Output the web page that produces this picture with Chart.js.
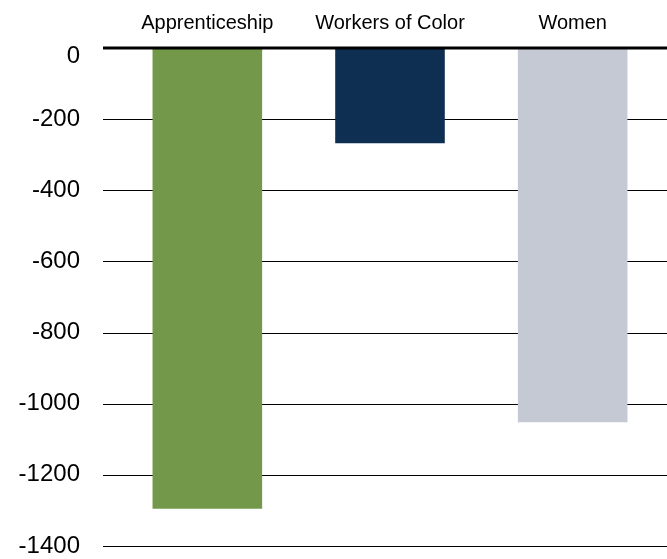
<!DOCTYPE html>
<html>
<head>
<meta charset="utf-8">
<script src="https://cdn.jsdelivr.net/npm/chart.js@4"></script>
<style>
  html, body { margin: 0; padding: 0; background: #fff; overflow: hidden; }
  canvas { display: block; }
</style>
</head>
<body>
<canvas id="gap-chart" width="667" height="559"></canvas>
<script>
const categories = ["Apprenticeship", "Workers of Color", "Women"];
const gapValues = [-1295, -268, -1052];
const barColors = ["#74984a", "#0e2f52", "#c5c9d4"];
const yTicks = [0, -200, -400, -600, -800, -1000, -1200, -1400];

const FONT = "'Liberation Sans', Arial, sans-serif";

// horizontal rules run past the plot edges, drawn under the bars;
// the zero rule is heavier and goes on top of them
const rules = {
  id: "rules",
  beforeDatasetsDraw(chart) {
    const { ctx, chartArea, scales: { y } } = chart;
    ctx.save();
    ctx.strokeStyle = "#000";
    ctx.lineWidth = 1;
    yTicks.forEach((v) => {
      if (v === 0) return;
      const py = Math.round(y.getPixelForValue(v)) + 0.5;
      ctx.beginPath();
      ctx.moveTo(chartArea.left - 13, py);
      ctx.lineTo(chart.width, py);
      ctx.stroke();
    });
    ctx.restore();
  },
  afterDatasetsDraw(chart) {
    const { ctx, chartArea, scales: { y } } = chart;
    const py = y.getPixelForValue(0);
    ctx.save();
    ctx.strokeStyle = "#000";
    ctx.lineWidth = 3;
    ctx.beginPath();
    ctx.moveTo(chartArea.left - 13, py);
    ctx.lineTo(chart.width, py);
    ctx.stroke();
    // the "0" label sits a little below its rule
    ctx.fillStyle = "#000";
    ctx.font = "24px " + FONT;
    ctx.textAlign = "right";
    ctx.textBaseline = "middle";
    ctx.fillText("0", y.right - 36, py + 8);
    ctx.restore();
  }
};

new Chart(document.querySelector("#gap-chart"), {
  type: "bar",
  data: {
    labels: categories,
    datasets: [{
      data: gapValues,
      backgroundColor: barColors,
      borderWidth: 0,
      barPercentage: 0.6,
      categoryPercentage: 1
    }]
  },
  plugins: [rules],
  options: {
    responsive: false,
    animation: false,
    layout: { padding: { left: 0, right: 3, top: 0, bottom: 0 } },
    plugins: { legend: { display: false }, tooltip: { enabled: false } },
    scales: {
      x: {
        position: "top",
        grid: { display: false, drawTicks: false },
        border: { display: false },
        ticks: { color: "#000", font: { family: FONT, size: 20 }, padding: 13, maxRotation: 0 },
        afterFit: (scale) => { scale.height = 48; }
      },
      y: {
        min: -1400,
        max: 0,
        grid: { display: false, drawTicks: false },
        border: { display: false },
        ticks: {
          stepSize: 200,
          color: "#000",
          padding: 36,
          font: { family: FONT, size: 24 },
          callback: (v) => (v === 0 ? "" : v)
        },
        afterFit: (scale) => {
          scale.width = 116;
          scale.paddingTop = 0;
          scale.paddingBottom = 13;
        }
      }
    }
  }
});
</script>
</body>
</html>
